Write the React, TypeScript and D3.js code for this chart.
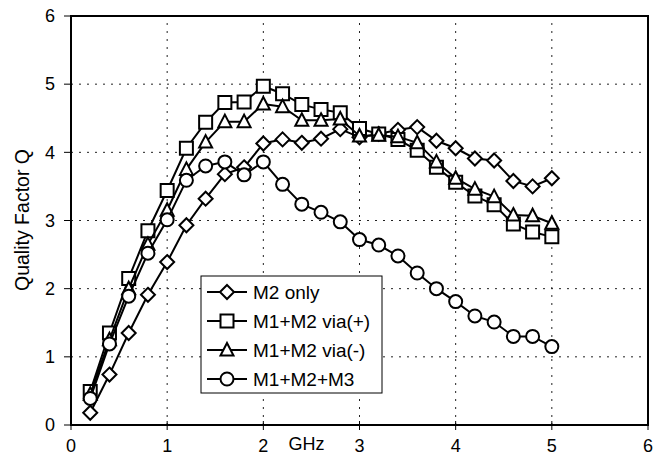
import React from "react";
import * as d3 from "d3";

// Frequency points (GHz)
const freqs = [0.2, 0.4, 0.6, 0.8, 1.0, 1.2, 1.4, 1.6, 1.8, 2.0, 2.2, 2.4, 2.6, 2.8, 3.0, 3.2, 3.4, 3.6, 3.8, 4.0, 4.2, 4.4, 4.6, 4.8, 5.0];

// Quality factor per structure
const m2Only = [0.18, 0.74, 1.35, 1.91, 2.39, 2.93, 3.32, 3.68, 3.78, 4.13, 4.19, 4.14, 4.2, 4.34, 4.22, 4.27, 4.33, 4.37, 4.17, 4.06, 3.91, 3.88, 3.58, 3.5, 3.62];
const m1m2ViaPlus = [0.49, 1.35, 2.15, 2.85, 3.44, 4.06, 4.44, 4.73, 4.74, 4.97, 4.86, 4.7, 4.63, 4.58, 4.35, 4.27, 4.19, 4.03, 3.78, 3.56, 3.36, 3.23, 2.95, 2.83, 2.76];
const m1m2ViaMinus = [0.45, 1.25, 2.0, 2.65, 3.15, 3.75, 4.15, 4.45, 4.45, 4.71, 4.67, 4.47, 4.47, 4.49, 4.24, 4.25, 4.23, 4.14, 3.86, 3.62, 3.46, 3.35, 3.08, 3.07, 2.96];
const m1m2m3 = [0.39, 1.19, 1.89, 2.52, 3.01, 3.59, 3.8, 3.86, 3.67, 3.86, 3.53, 3.24, 3.12, 2.98, 2.72, 2.64, 2.48, 2.23, 2.0, 1.81, 1.6, 1.51, 1.3, 1.3, 1.15];

const seriesNames = ["M2 only", "M1+M2 via(+)", "M1+M2 via(-)", "M1+M2+M3"];
const seriesValues = [m2Only, m1m2ViaPlus, m1m2ViaMinus, m1m2m3];
const seriesMarkers = ["diamond", "square", "triangle", "circle"];

const xTicks = [0, 1, 2, 3, 4, 5, 6];
const yTicks = [0, 1, 2, 3, 4, 5, 6];

const W = 660;
const H = 468;
const FONT = "'Liberation Sans', Arial, sans-serif";

const x = d3.scaleLinear().domain([0, 6]).range([71, 648]);
const y = d3.scaleLinear().domain([0, 6]).range([425, 16]);

function markerPath(kind: string): string {
  switch (kind) {
    case "diamond":
      return "M0,-7L7,0L0,7L-7,0Z";
    case "square":
      return "M-6.5,-6.5H6.5V6.5H-6.5Z";
    case "triangle":
      return "M0,-7L6.5,5.5L-6.5,5.5Z";
    default:
      return d3.arc()({ innerRadius: 0, outerRadius: 6.5, startAngle: 0, endAngle: 2 * Math.PI }) as string;
  }
}

function Marker({ kind, cx, cy }: { kind: string; cx: number; cy: number }) {
  return (
    <path
      d={markerPath(kind)}
      transform={`translate(${cx},${cy})`}
      fill="#fff"
      stroke="#000"
      strokeWidth={2}
    />
  );
}

export default function App() {
  const line = d3
    .line<[number, number]>()
    .x((d) => x(d[0]))
    .y((d) => y(d[1]));

  const legendX = 201;
  const legendY = 276;
  const legendW = 181;
  const legendH = 117;
  const rowGap = 29;

  return (
    <svg width={W} height={H} style={{ display: "block", position: "absolute", left: 0, top: 0 }} fontFamily={FONT}>
      <rect x={0} y={0} width={W} height={H} fill="#fff" />

      {/* dotted grid */}
      {yTicks.slice(1, -1).map((t) => (
        <line key={`gy${t}`} x1={x(0)} x2={x(6)} y1={y(t)} y2={y(t)} stroke="#222" strokeWidth={1} strokeDasharray="2,6" />
      ))}
      {xTicks.slice(1, -1).map((t) => (
        <line key={`gx${t}`} x1={x(t)} x2={x(t)} y1={y(0)} y2={y(6)} stroke="#222" strokeWidth={1} strokeDasharray="2,6" />
      ))}

      {/* frame */}
      <rect x={x(0)} y={y(6)} width={x(6) - x(0)} height={y(0) - y(6)} fill="none" stroke="#000" strokeWidth={2} />

      {/* y ticks and labels */}
      {yTicks.map((t) => (
        <g key={`yt${t}`}>
          <line x1={x(0) - 7} x2={x(0)} y1={y(t)} y2={y(t)} stroke="#000" strokeWidth={1} />
          <text x={55} y={y(t)} dy="0.35em" textAnchor="end" fontSize={18}>
            {t}
          </text>
        </g>
      ))}

      {/* x ticks and labels */}
      {xTicks.map((t) => (
        <g key={`xt${t}`}>
          <line x1={x(t)} x2={x(t)} y1={y(0) - 4} y2={y(0) + 5} stroke="#000" strokeWidth={1} />
          <text x={x(t)} y={452} textAnchor="middle" fontSize={18}>
            {t}
          </text>
        </g>
      ))}

      <text x={x(2.45)} y={450} textAnchor="middle" fontSize={18}>
        GHz
      </text>
      <text transform={`translate(29,220) rotate(-90)`} textAnchor="middle" fontSize={19.5}>
        Quality Factor Q
      </text>

      {/* series */}
      {seriesValues.map((vals, i) => {
        const pts = freqs.map((f, j) => [f, vals[j]] as [number, number]);
        return (
          <g key={seriesNames[i]}>
            <path d={line(pts) as string} fill="none" stroke="#000" strokeWidth={2} />
            {pts.map((p, j) => (
              <Marker key={j} kind={seriesMarkers[i]} cx={x(p[0])} cy={y(p[1])} />
            ))}
          </g>
        );
      })}

      {/* legend */}
      <rect x={legendX} y={legendY} width={legendW} height={legendH} fill="#fff" stroke="#000" strokeWidth={1} />
      {seriesNames.map((name, i) => {
        const cy = legendY + 16 + i * rowGap;
        return (
          <g key={`lg${i}`}>
            <line x1={legendX + 6} x2={legendX + 46} y1={cy} y2={cy} stroke="#000" strokeWidth={2} />
            <Marker kind={seriesMarkers[i]} cx={legendX + 26} cy={cy} />
            <text x={legendX + 52} y={cy} dy="0.36em" fontSize={19}>
              {name}
            </text>
          </g>
        );
      })}
    </svg>
  );
}
